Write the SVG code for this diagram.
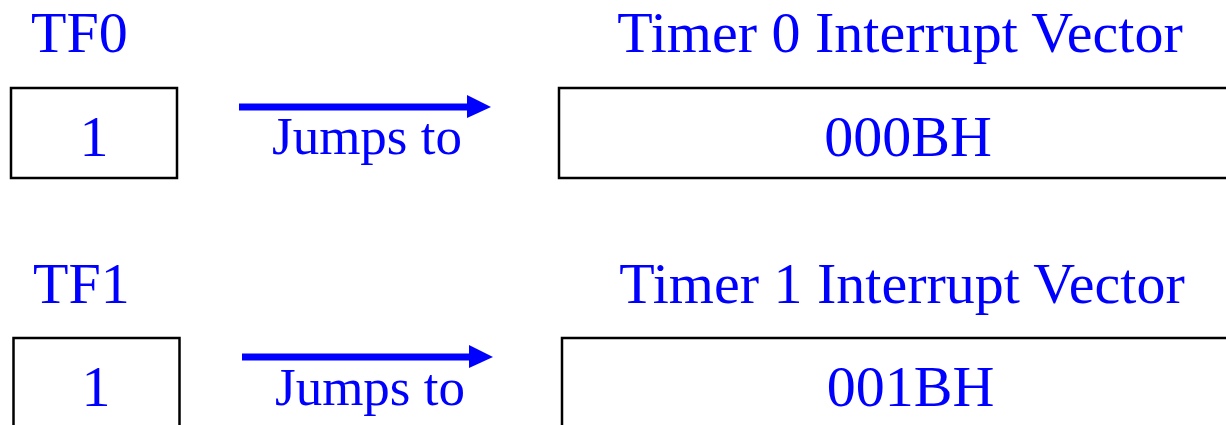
<svg xmlns="http://www.w3.org/2000/svg" width="1226" height="425" viewBox="0 0 1226 425">
  <style>
    .lbl { font-family: "Liberation Serif", "Times New Roman", serif; fill: #0000ff; font-size: 58px; }
    .mid { text-anchor: middle; }
    .jump { font-size: 53px; }
    .box { fill: #ffffff; stroke: #000000; stroke-width: 2.5; }
    .shaft { stroke: #0000ff; stroke-width: 7; fill: none; }
    .head { fill: #0000ff; }
  </style>
  <rect width="1226" height="425" fill="#ffffff"/>

  <!-- Timer 0 row -->
  <g id="tf0">
    <text class="lbl" x="31" y="52">TF0</text>
    <rect class="box" x="11" y="88" width="166" height="90"/>
    <text class="lbl mid" x="94" y="156">1</text>
  </g>
  <g id="vector0">
    <text class="lbl mid" x="900" y="52">Timer 0 Interrupt Vector</text>
    <rect class="box" x="559" y="88" width="700" height="90"/>
    <text class="lbl mid" x="908" y="156">000BH</text>
  </g>

  <!-- Timer 1 row -->
  <g id="tf1">
    <text class="lbl" x="33" y="303">TF1</text>
    <rect class="box" x="13.5" y="338" width="166" height="100"/>
    <text class="lbl mid" x="96" y="406">1</text>
  </g>
  <g id="vector1">
    <text class="lbl mid" x="902" y="303">Timer 1 Interrupt Vector</text>
    <rect class="box" x="562" y="338" width="700" height="100"/>
    <text class="lbl mid" x="910.5" y="406">001BH</text>
  </g>

  <!-- Connectors -->
  <g id="connectors">
    <g id="jump0">
      <line class="shaft" x1="239" y1="107" x2="469" y2="107"/>
      <polygon class="head" points="467,95 491,107 467,118"/>
      <text class="lbl mid jump" x="367" y="154">Jumps to</text>
    </g>
    <g id="jump1">
      <line class="shaft" x1="242" y1="357" x2="471" y2="357"/>
      <polygon class="head" points="469,345 493,357 469,368"/>
      <text class="lbl mid jump" x="370" y="405">Jumps to</text>
    </g>
  </g>
</svg>
